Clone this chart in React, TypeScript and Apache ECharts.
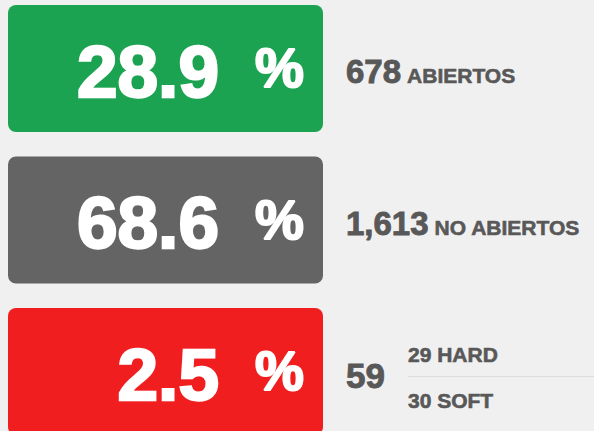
import React, { useEffect, useRef } from "react";
import * as echarts from "echarts";

// ---- data ----
const percents = ["28.9", "68.6", "2.5"];
const counts = ["678", "1,613", "59"];
const countLabels = ["ABIERTOS", "NO ABIERTOS", ""];
const bounceTypes = ["HARD", "SOFT"];
const bounceCounts = ["29", "30"];
const boxColors = ["#1ba351", "#646464", "#f11e1f"];

const FONT = '"Liberation Sans", Arial, Helvetica, sans-serif';
const TEXT_GREY = "#585858";
const BG = "#f0f0f0";

function measure(text: string, size: number): number {
  const c = document.createElement("canvas").getContext("2d");
  if (!c) return text.length * size * 0.6;
  c.font = `bold ${size}px ${FONT}`;
  return c.measureText(text).width;
}

// place text by its alphabetic baseline (zrender svg uses central baseline)
function txt(
  text: string,
  x: number,
  baseline: number,
  size: number,
  fill: string,
  align: string = "left",
  strokeW: number = 0
) {
  return {
    type: "text",
    x,
    y: baseline - 0.3465 * size,
    style: {
      text,
      fill,
      stroke: strokeW > 0 ? fill : undefined,
      lineWidth: strokeW,
      font: `bold ${size}px ${FONT}`,
      align,
      verticalAlign: "middle",
    },
  };
}

export default function App() {
  const ref = useRef<HTMLDivElement>(null);

  useEffect(() => {
    if (!ref.current) return;
    const chart = echarts.init(ref.current, undefined, { renderer: "svg" });

    const elements: any[] = [];
    const boxX = 8;
    const boxW = 315;
    const boxH = 127;
    const rowStep = 151.5;
    const firstTop = 5;

    percents.forEach((p, i) => {
      const top = firstTop + i * rowStep;
      elements.push({
        type: "rect",
        shape: { x: boxX, y: top, width: boxW, height: boxH, r: 8 },
        style: { fill: boxColors[i] },
      });
      elements.push(txt(p, 219, top + 91.5, 73, "#ffffff", "right", 2.4));
      elements.push(txt("%", 304, top + 82.5, 55, "#ffffff", "right", 2));

      const countX = 346;
      if (countLabels[i]) {
        const cs = 33;
        const base = top + 78;
        elements.push(txt(counts[i], countX, base, cs, TEXT_GREY, "left", 0.9));
        const w = measure(counts[i], cs);
        elements.push(txt(countLabels[i], countX + w + 6, base, 21, TEXT_GREY, "left", 0.6));
      } else {
        elements.push(txt(counts[i], countX, top + 80, 35, TEXT_GREY, "left", 0.9));
        const subX = 408;
        elements.push(txt(`${bounceCounts[0]} ${bounceTypes[0]}`, subX, top + 54, 21, TEXT_GREY, "left", 0.6));
        elements.push({
          type: "line",
          shape: { x1: subX, y1: top + 68.5, x2: 594, y2: top + 68.5 },
          style: { stroke: "#dedede", lineWidth: 1 },
        });
        elements.push(txt(`${bounceCounts[1]} ${bounceTypes[1]}`, subX, top + 100, 21, TEXT_GREY, "left", 0.6));
      }
    });

    chart.setOption({
      animation: false,
      backgroundColor: BG,
      graphic: { elements },
    });

    return () => chart.dispose();
  }, []);

  return (
    <div
      ref={ref}
      style={{ position: "fixed", left: 0, top: 0, width: 594, height: 431, background: BG }}
    />
  );
}
